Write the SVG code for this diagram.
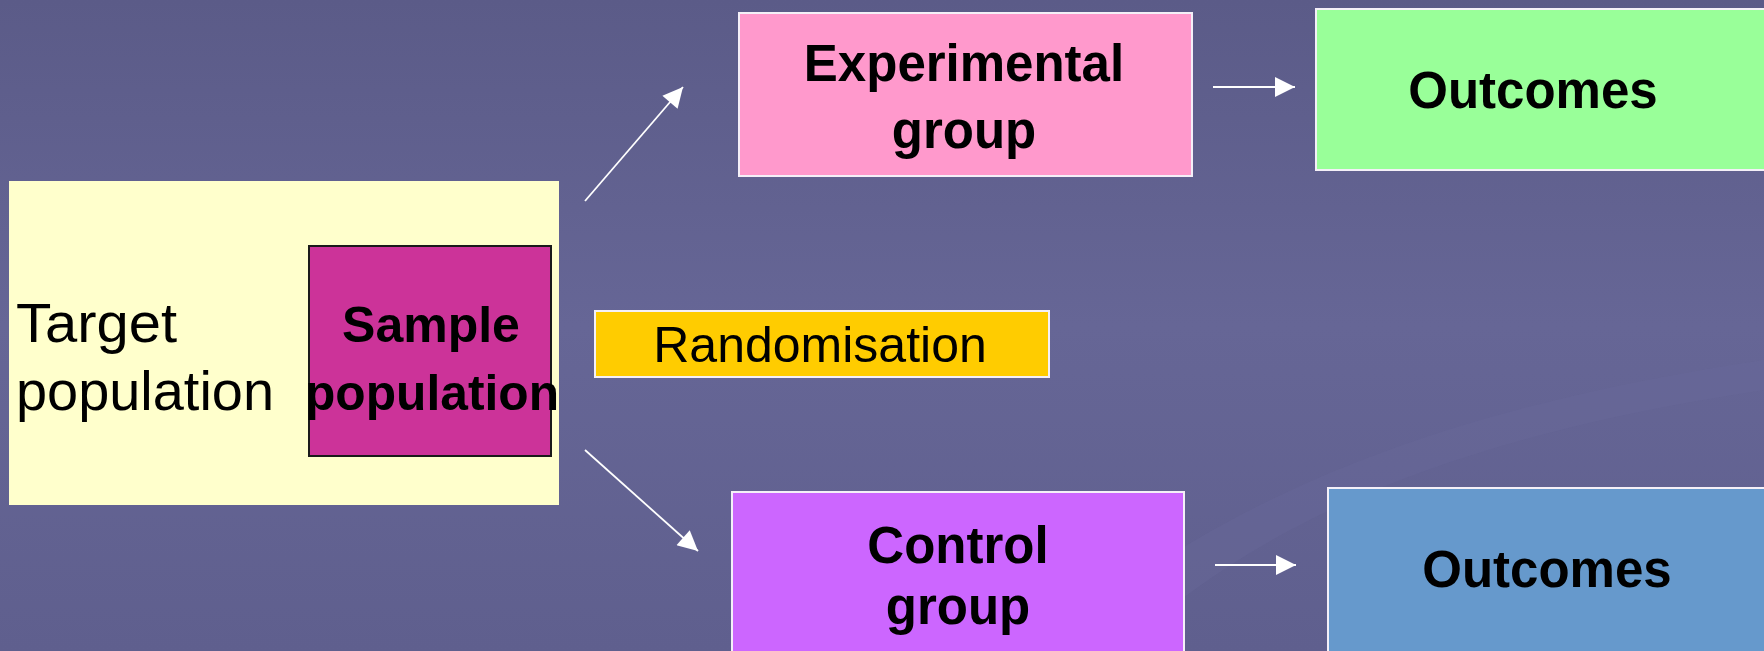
<svg xmlns="http://www.w3.org/2000/svg" width="1764" height="651" viewBox="0 0 1764 651">
  <defs>
    <linearGradient id="bg" x1="0" y1="0" x2="0" y2="1">
      <stop offset="0" stop-color="#5b5b88"/>
      <stop offset="0.5" stop-color="#666696"/>
      <stop offset="1" stop-color="#5f5f8e"/>
    </linearGradient>
    <marker id="ah" viewBox="0 0 10 10" refX="10" refY="5" markerWidth="24" markerHeight="20" markerUnits="userSpaceOnUse" orient="auto">
      <path d="M0,0 L10,5 L0,10 Z" fill="#ffffff"/>
    </marker>
    <style>
      .box { stroke: #f4f0f8; stroke-width: 2; }
      .t { font-family: "Liberation Sans", Arial, sans-serif; fill: #000; }
      .b { font-weight: bold; font-size: 51px; text-anchor: middle; }
      .conn { stroke: #ffffff; stroke-width: 1.8; fill: none; }
    </style>
  </defs>

  <rect x="0" y="0" width="1764" height="651" fill="url(#bg)"/>
  <path d="M1040,651 C1250,470 1500,400 1764,360 L1764,390 C1500,430 1280,500 1120,651 Z" fill="#6a6a9a" opacity="0.35"/>

  <g id="target">
    <rect x="9" y="181" width="550" height="324" fill="#ffffcc"/>
    <text class="t" x="16" y="342" font-size="56" textLength="161" lengthAdjust="spacingAndGlyphs">Target</text>
    <text class="t" x="16" y="410" font-size="56" textLength="258" lengthAdjust="spacingAndGlyphs">population</text>
  </g>

  <g id="sample">
    <rect x="309" y="246" width="242" height="210" fill="#cc3399" stroke="#1a1a1a" stroke-width="2"/>
    <text class="t b" x="431" y="342" style="font-size:50px">Sample</text>
    <text class="t b" x="432" y="410" style="font-size:50px" textLength="254" lengthAdjust="spacingAndGlyphs">population</text>
  </g>

  <g id="randomisation">
    <rect class="box" x="595" y="311" width="454" height="66" fill="#ffcc00"/>
    <text class="t" x="820" y="362" font-size="50" text-anchor="middle">Randomisation</text>
  </g>

  <g id="experimental">
    <rect class="box" x="739" y="13" width="453" height="163" fill="#ff99cc"/>
    <text class="t b" x="964" y="81">Experimental</text>
    <text class="t b" x="964" y="148">group</text>
  </g>

  <g id="outcomes-exp">
    <rect class="box" x="1316" y="9" width="460" height="161" fill="#99ff99"/>
    <text class="t b" x="1533" y="108">Outcomes</text>
  </g>

  <g id="control">
    <rect class="box" x="732" y="492" width="452" height="170" fill="#cc66ff"/>
    <text class="t b" x="958" y="563">Control</text>
    <text class="t b" x="958" y="624">group</text>
  </g>

  <g id="outcomes-ctrl">
    <rect class="box" x="1328" y="488" width="448" height="174" fill="#6699cc"/>
    <text class="t b" x="1547" y="587">Outcomes</text>
  </g>

  <g id="connectors">
    <line class="conn" x1="585" y1="201" x2="683" y2="87" marker-end="url(#ah)"/>
    <line class="conn" x1="585" y1="450" x2="698" y2="551" marker-end="url(#ah)"/>
    <line class="conn" x1="1213" y1="87" x2="1295" y2="87" marker-end="url(#ah)"/>
    <line class="conn" x1="1215" y1="565" x2="1296" y2="565" marker-end="url(#ah)"/>
  </g>
</svg>
